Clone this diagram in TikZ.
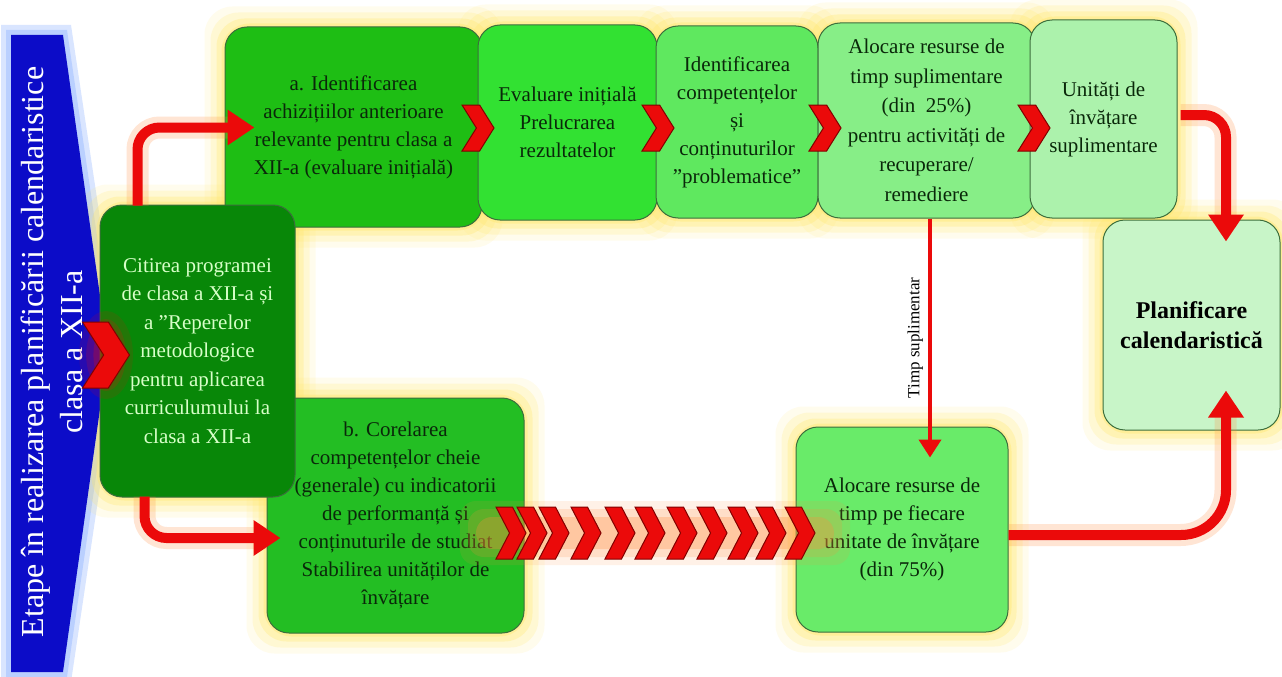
\documentclass[tikz,border=0pt]{standalone}
\usepackage{fontspec}
\setmainfont{Liberation Serif}
\usetikzlibrary{calc,arrows.meta,backgrounds}
\definecolor{bannerblue}{RGB}{12,12,200}
\definecolor{bannerglow}{RGB}{130,170,255}
\definecolor{cCit}{RGB}{8,135,8}
\definecolor{cA}{RGB}{30,190,20}
\definecolor{cEv}{RGB}{50,225,50}
\definecolor{cIdc}{RGB}{95,232,95}
\definecolor{cAl}{RGB}{135,238,135}
\definecolor{cUn}{RGB}{172,242,172}
\definecolor{cPl}{RGB}{200,245,200}
\definecolor{cB}{RGB}{35,190,35}
\definecolor{cAlb}{RGB}{105,235,105}
\definecolor{boxedge}{RGB}{60,110,60}
\definecolor{boxtext}{RGB}{10,40,10}
\definecolor{cittext}{RGB}{215,255,200}
\definecolor{arrred}{RGB}{235,10,10}
\definecolor{chevedge}{RGB}{130,0,0}
\definecolor{glowyel}{RGB}{255,232,110}
\definecolor{gloworange}{RGB}{255,140,60}
\tikzset{
  box/.style={draw=boxedge, line width=1pt, rounded corners=22pt, align=center,
    inner sep=3pt, font=\fontsize{21}{28}\selectfont, text=boxtext},
  bigarrow/.style={draw=arrred, line width=10pt, rounded corners=22pt,
    -{Triangle[length=27pt,width=34pt]}},
  glowline/.style={draw=gloworange, line width=22pt, opacity=0.22, rounded corners=22pt},
  thinarrow/.style={draw=arrred, line width=4pt, -{Triangle[length=18pt,width=22pt]}},
  chevst/.style={fill=arrred, draw=chevedge, line width=1pt, line join=miter},
  timplbl/.style={font=\fontsize{17}{20}\selectfont, text=black, inner sep=5pt}
}
\newcommand\mychev[4]{%
  \filldraw[chevst] ({#1-#3/2},{#2-#4/2}) -- ({#1+0.05*#3},{#2-#4/2}) -- ({#1+#3/2},#2)
    -- ({#1+0.05*#3},{#2+#4/2}) -- ({#1-#3/2},{#2+#4/2}) -- ({#1-0.05*#3},#2) -- cycle;}
\newcommand\glowbox[2]{%
  \begin{pgfonlayer}{background}
  \foreach \r/\o in {20/0.12,14/0.2,8/0.3,3/0.4}{
    \fill[#2, opacity=\o, rounded corners=28pt] ($(#1.south west)+(-\r,\r)$) rectangle ($(#1.north east)+(\r,-\r)$);}
  \end{pgfonlayer}}
\begin{document}
\begin{tikzpicture}[x=1pt,y=-1pt]
\useasboundingbox (0,0) rectangle (1282,677);
\begin{pgfonlayer}{background}
\fill[white] (0,0) rectangle (1282,677);
\fill[bannerglow, opacity=0.3] (1,25) -- (71,25) -- (120,352) -- (71,682) -- (1,682) -- cycle;
\fill[bannerglow, opacity=0.35] (6,30) -- (67,30) -- (114,352) -- (67,677) -- (6,677) -- cycle;
\end{pgfonlayer}
% banner
\fill[bannerblue] (11,35) -- (63,35) -- (108,352) -- (63,672) -- (11,672) -- cycle;
\node[rotate=90, text=white, align=center, font=\fontsize{32}{39}\selectfont] (bt) at (52,352)
  {Etape în realizarea planificării calendaristice\\clasa a XII-a};
% top row
\node[box, fill=cA, minimum width=257pt, minimum height=200pt] (a) at (353.5,127)
  {a. Identificarea\\achizițiilor anterioare\\relevante pentru clasa a\\XII-a (evaluare inițială)};
\node[box, fill=cEv, minimum width=179pt, minimum height=195pt] (ev) at (567.5,122.5)
  {Evaluare inițială\\Prelucrarea\\rezultatelor};
\node[box, fill=cIdc, minimum width=162pt, minimum height=192pt] (idc) at (737,122)
  {Identificarea\\competențelor\\și\\conținuturilor\\”problematice”};
\node[box, fill=cAl, minimum width=217pt, minimum height=195pt, font=\fontsize{21}{29.5}\selectfont] (al) at (926.5,120.5)
  {Alocare resurse de\\timp suplimentare\\(din~~25\%)\\pentru activități de\\recuperare/\\remediere};
\node[box, fill=cUn, minimum width=147pt, minimum height=198pt] (un) at (1103.5,119)
  {Unități de\\învățare\\suplimentare};
\node[box, fill=cPl, minimum width=177pt, minimum height=210pt, font=\fontsize{24}{30}\selectfont\bfseries, text=black] (pl) at (1191.5,325)
  {Planificare\\calendaristică};
% bottom row
\node[box, fill=cB, minimum width=257pt, minimum height=235pt] (b) at (395.5,515.5)
  {b. Corelarea\\competențelor cheie\\(generale) cu indicatorii\\de performanță și\\conținuturile de studiat\\Stabilirea unităților de\\învățare};
\node[box, fill=cAlb, minimum width=212pt, minimum height=205pt] (alb) at (902,529.5)
  {Alocare resurse de\\timp pe fiecare\\unitate de învățare\\(din 75\%)};
\node[box, fill=cCit, text=cittext, minimum width=195pt, minimum height=292pt, font=\fontsize{21}{28.5}\selectfont] (cit) at (197.5,351)
  {Citirea programei\\de clasa a XII-a și\\a ”Reperelor\\metodologice\\pentru aplicarea\\curriculumului la\\clasa a XII-a};
% glows
\glowbox{a}{glowyel}
\glowbox{ev}{glowyel}
\glowbox{idc}{glowyel}
\glowbox{al}{glowyel}
\glowbox{un}{glowyel}
\glowbox{pl}{glowyel}
\glowbox{b}{glowyel}
\glowbox{alb}{glowyel}
\glowbox{cit}{glowyel}
% arrow glows
\draw[glowline] ($(cit.north west)+(38,1)$) |- ($(a.west)+(10,0.5)$);
\draw[glowline] ($(cit.south west)+(45,-1)$) |- ($(b.west)+(0,22.5)$);
\draw[glowline] ($(un.east)+(3,-4)$) -| ($(pl.north)+(34,0)$);
\draw[glowline, rounded corners=45pt] ($(alb.east)+(0,5.5)$) -| ($(pl.south)+(34,-20)$);
\foreach \r/\o in {32/0.12,24/0.18,16/0.28}{
  \fill[gloworange, opacity=\o, rounded corners=16pt] (492-\r,533-\r) rectangle (818+\r,533+\r);}
\foreach \r/\o in {30/0.12,22/0.18,14/0.25}{
  \fill[arrred, opacity=\o] (106,355) ellipse ({\r*0.9} and {\r+14});}
% arrows
\draw[bigarrow] ($(cit.north west)+(38,1)$) |- ($(a.west)+(30,0.5)$);
\draw[bigarrow] ($(cit.south west)+(45,-1)$) |- ($(b.west)+(14,22.5)$);
\draw[bigarrow] ($(un.east)+(3,-4)$) -| ($(pl.north)+(34.5,22)$);
\draw[bigarrow, rounded corners=45pt] ($(alb.east)+(0,5.5)$) -| ($(pl.south)+(34.5,-40)$);
\draw[thinarrow] ($(al.south)+(3.5,0)$) -- node[timplbl, rotate=90, anchor=south] (tl) {Timp suplimentar} ($(alb.north)+(28,31)$);
% chevrons
\mychev{106}{355}{47}{66}
\mychev{478}{128}{32}{46}
\mychev{658}{128}{32}{46}
\mychev{825}{128}{32}{46}
\mychev{1034}{128}{32}{46}
\foreach \cx in {511,532,554,586,620,650,682,712,743,771,800}{\mychev{\cx}{533}{30}{52}}
\end{tikzpicture}
\end{document}
